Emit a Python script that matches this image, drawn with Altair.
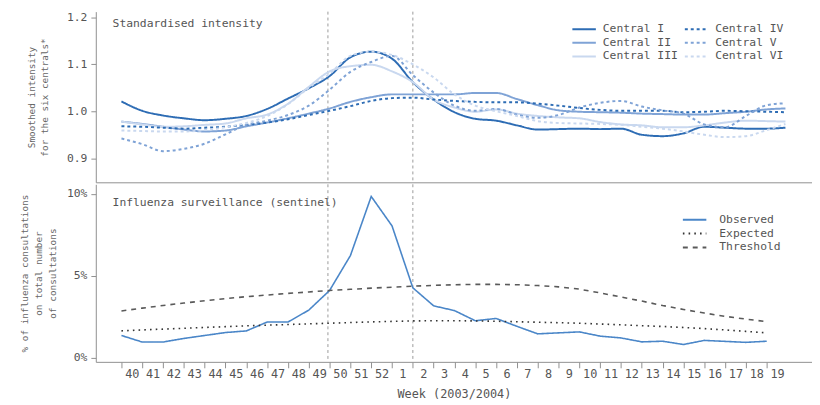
import altair as alt
import pandas as pd

# ---------------- data ----------------
weeks = [40, 41, 42, 43, 44, 45, 46, 47, 48, 49, 50, 51, 52,
         1, 2, 3, 4, 5, 6, 7, 8, 9, 10, 11, 12, 13, 14, 15, 16, 17, 18, 19]
week_idx = list(range(len(weeks)))
top_idx = list(range(32)) + [31.9]

central_names = ["Central I", "Central II", "Central III",
                 "Central IV", "Central V", "Central VI"]
central_1 = [1.021, 1.001, 0.991, 0.985, 0.981, 0.984, 0.990, 1.005, 1.027, 1.049, 1.075, 1.115, 1.127,
             1.112, 1.062, 1.025, 0.998, 0.984, 0.980, 0.970, 0.961, 0.962, 0.963, 0.962, 0.963, 0.950,
             0.947, 0.953, 0.967, 0.965, 0.963, 0.963, 0.965]
central_2 = [0.978, 0.973, 0.967, 0.961, 0.957, 0.959, 0.968, 0.976, 0.985, 0.995, 1.006, 1.020, 1.030,
             1.036, 1.036, 1.036, 1.036, 1.039, 1.039, 1.026, 1.013, 1.002, 0.999, 0.998, 0.997, 0.995,
             0.994, 0.993, 0.993, 0.996, 0.999, 1.004, 1.006]
central_3 = [0.978, 0.972, 0.967, 0.968, 0.971, 0.974, 0.985, 0.993, 1.016, 1.052, 1.085, 1.096, 1.099,
             1.085, 1.062, 1.025, 1.008, 0.999, 1.004, 0.995, 0.990, 0.987, 0.985, 0.977, 0.972, 0.970,
             0.966, 0.966, 0.970, 0.976, 0.980, 0.979, 0.978]
central_4 = [0.968, 0.967, 0.965, 0.963, 0.965, 0.967, 0.971, 0.976, 0.983, 0.992, 1.001, 1.011, 1.022,
             1.028, 1.029, 1.025, 1.022, 1.020, 1.019, 1.019, 1.016, 1.012, 1.007, 1.003, 1.001, 1.001,
             1.001, 0.998, 0.999, 1.001, 1.000, 0.999, 0.998]
central_5 = [0.942, 0.930, 0.915, 0.920, 0.931, 0.951, 0.971, 0.980, 0.992, 1.012, 1.046, 1.084, 1.105,
             1.118, 1.077, 1.040, 1.012, 1.001, 1.005, 0.993, 0.986, 0.992, 1.008, 1.018, 1.022, 1.010,
             1.002, 0.995, 0.972, 0.966, 0.990, 1.013, 1.017]
central_6 = [0.959, 0.958, 0.957, 0.957, 0.960, 0.966, 0.975, 0.990, 1.015, 1.050, 1.080, 1.118, 1.127,
             1.120, 1.100, 1.072, 1.036, 1.012, 1.000, 0.990, 0.979, 0.975, 0.974, 0.973, 0.971, 0.967,
             0.963, 0.957, 0.950, 0.945, 0.947, 0.960, 0.973]

surv_names = ["Observed", "Expected", "Threshold"]
observed = [1.35, 0.95, 0.95, 1.17, 1.35, 1.53, 1.63, 2.17, 2.17, 2.90, 4.10, 6.23, 9.84,
            8.04, 4.26, 3.16, 2.87, 2.25, 2.39, 1.91, 1.45, 1.51, 1.57, 1.31, 1.20, 0.96,
            1.00, 0.80, 1.05, 0.99, 0.93, 1.00]
expected = [1.63, 1.69, 1.74, 1.79, 1.84, 1.89, 1.94, 1.98, 2.02, 2.06, 2.10, 2.14, 2.18,
            2.21, 2.24, 2.25, 2.25, 2.24, 2.22, 2.19, 2.16, 2.13, 2.10, 2.05, 2.00, 1.95,
            1.90, 1.84, 1.77, 1.69, 1.60, 1.51]
threshold = [2.85, 3.02, 3.18, 3.33, 3.47, 3.60, 3.72, 3.82, 3.92, 4.01, 4.10, 4.17, 4.24,
             4.30, 4.36, 4.41, 4.45, 4.47, 4.47, 4.45, 4.40, 4.32, 4.18, 3.95, 3.70, 3.45,
             3.18, 2.94, 2.72, 2.52, 2.35, 2.20]

marker_idx = [9.92, 14.0]

# ---------------- tables ----------------
top_rows = []
for name, vals in zip(central_names, [central_1, central_2, central_3, central_4, central_5, central_6]):
    for x, v in zip(top_idx, vals):
        top_rows.append({"x": x, "v": v, "series": name})
top_df = pd.DataFrame(top_rows)

bot_rows = []
for name, vals in zip(surv_names, [observed, expected, threshold]):
    for x, v in zip(week_idx, vals):
        bot_rows.append({"x": x, "pct": v, "kind": name})
bot_df = pd.DataFrame(bot_rows)

marker_df = pd.DataFrame({"x": marker_idx})

# ---------------- style ----------------
FONT = "DejaVu Sans Mono"
TXT = "#555555"
AX = "#8f8f8f"
W = 726
X_DOM = [-1.232, -1.232 + W / 21.1]
x_scale = alt.Scale(domain=X_DOM, nice=False, zero=False)

DARK, MED, LIGHT = "#2d6cb4", "#7fa3d6", "#c9d8ef"
leg_order = central_names
leg_colors = [DARK, MED, LIGHT, DARK, MED, LIGHT]
leg_dash = [[1, 0], [1, 0], [1, 0], [3, 3], [3, 3], [3, 3]]

label_expr = "[" + ",".join("'%s'" % w for w in weeks) + "][datum.value]"

def make_legend(x, y, cols, off, colpad):
    return alt.Legend(title=None, orient="none", legendX=x, legendY=y, columns=cols,
                      symbolType="M-1.7,0H1.7", symbolSize=196, symbolStrokeWidth=2,
                      labelFont=FONT, labelFontSize=11.5, labelColor=TXT, labelOffset=off,
                      rowPadding=0, columnPadding=colpad, padding=0)

top_x_axis = alt.Axis(title=None, labels=False, ticks=False, grid=False, domainColor=AX)
bot_x_axis = alt.Axis(values=week_idx, labelExpr=label_expr, labelOffset=10.5, labelOverlap=False,
                      tickCount=32, grid=False,
                      title="Week (2003/2004)", titleFont=FONT, titleFontSize=12, titleFontWeight="normal",
                      titleColor=TXT, titlePadding=9,
                      labelFont=FONT, labelFontSize=12, labelColor=TXT, labelPadding=1,
                      tickSize=6, tickColor=AX, domainColor=AX)

top_leg = make_legend(487, 9.5, 2, 10.9, 2)

top_rule = alt.Chart(marker_df).mark_rule(color="#9a9a9a", strokeDash=[3, 3], strokeWidth=1).encode(
    x=alt.X("x:Q", scale=x_scale, axis=top_x_axis)
)

top_lines = alt.Chart(top_df).mark_line(interpolate="monotone", strokeWidth=2).encode(
    x=alt.X("x:Q", scale=x_scale, axis=top_x_axis),
    y=alt.Y("v:Q", scale=alt.Scale(domain=[0.8487, 1.2122], nice=False, zero=False),
            axis=alt.Axis(values=[0.9, 1.0, 1.1, 1.2], format=".1f", grid=False,
                          title=["Smoothed intensity", "for the six centrals*"],
                          titleFont=FONT, titleFontSize=9.5, titleFontWeight="normal", titleColor="#666666",
                          titleLineHeight=13, titlePadding=17,
                          labelFont=FONT, labelFontSize=11.5, labelColor=TXT, labelPadding=4,
                          tickSize=5, tickColor=AX, domainColor=AX)),
    color=alt.Color("series:N", scale=alt.Scale(domain=leg_order, range=leg_colors), legend=top_leg),
    strokeDash=alt.StrokeDash("series:N", scale=alt.Scale(domain=leg_order, range=leg_dash), legend=top_leg),
)

top = alt.layer(top_rule, top_lines).properties(
    width=W, height=173,
    title=alt.Title("Standardised intensity", anchor="start", frame="group", offset=0, dx=17, dy=25,
                    baseline="middle", font=FONT, fontSize=11.5, fontWeight="normal", color=TXT),
)

bot_leg = make_legend(599, 28, 1, 17, 0)
bot_order = surv_names
bot_colors = ["#4a86c8", "#333333", "#5a5a5a"]
bot_dash = [[1, 0], [1.6, 4.2], [5, 5]]

bot_rule = alt.Chart(marker_df).mark_rule(color="#9a9a9a", strokeDash=[3, 3], strokeWidth=1).encode(
    x=alt.X("x:Q", scale=x_scale, axis=bot_x_axis)
)

bot_lines = alt.Chart(bot_df).mark_line(strokeWidth=1.6).encode(
    x=alt.X("x:Q", scale=x_scale, axis=bot_x_axis),
    y=alt.Y("pct:Q", scale=alt.Scale(domain=[-0.26, 10.583], nice=False, zero=False),
            axis=alt.Axis(values=[0, 5, 10], labelExpr="datum.value + '%'", grid=False,
                          title=["% of influenza consultations", "on total number", "of consultations"],
                          titleFont=FONT, titleFontSize=9.5, titleFontWeight="normal", titleColor="#666666",
                          titleLineHeight=14, titlePadding=9,
                          labelFont=FONT, labelFontSize=11.5, labelColor=TXT, labelPadding=4,
                          tickSize=5, tickColor=AX, domainColor=AX)),
    color=alt.Color("kind:N", scale=alt.Scale(domain=bot_order, range=bot_colors), legend=bot_leg),
    strokeDash=alt.StrokeDash("kind:N", scale=alt.Scale(domain=bot_order, range=bot_dash), legend=bot_leg),
)

bottom = alt.layer(bot_rule, bot_lines).properties(
    width=W, height=180,
    title=alt.Title("Influenza surveillance (sentinel)", anchor="start", frame="group", offset=0, dx=17, dy=31,
                    baseline="middle", font=FONT, fontSize=11.5, fontWeight="normal", color=TXT),
)

chart = alt.vconcat(top, bottom, spacing=0).resolve_scale(
    x="independent", y="independent", color="independent", strokeDash="independent"
).properties(
    padding={"left": 12, "top": 0, "right": 0, "bottom": 0},
    background="white",
).configure_view(stroke=None)

chart.save("out.html", embed_options={"renderer": "svg", "actions": False})
